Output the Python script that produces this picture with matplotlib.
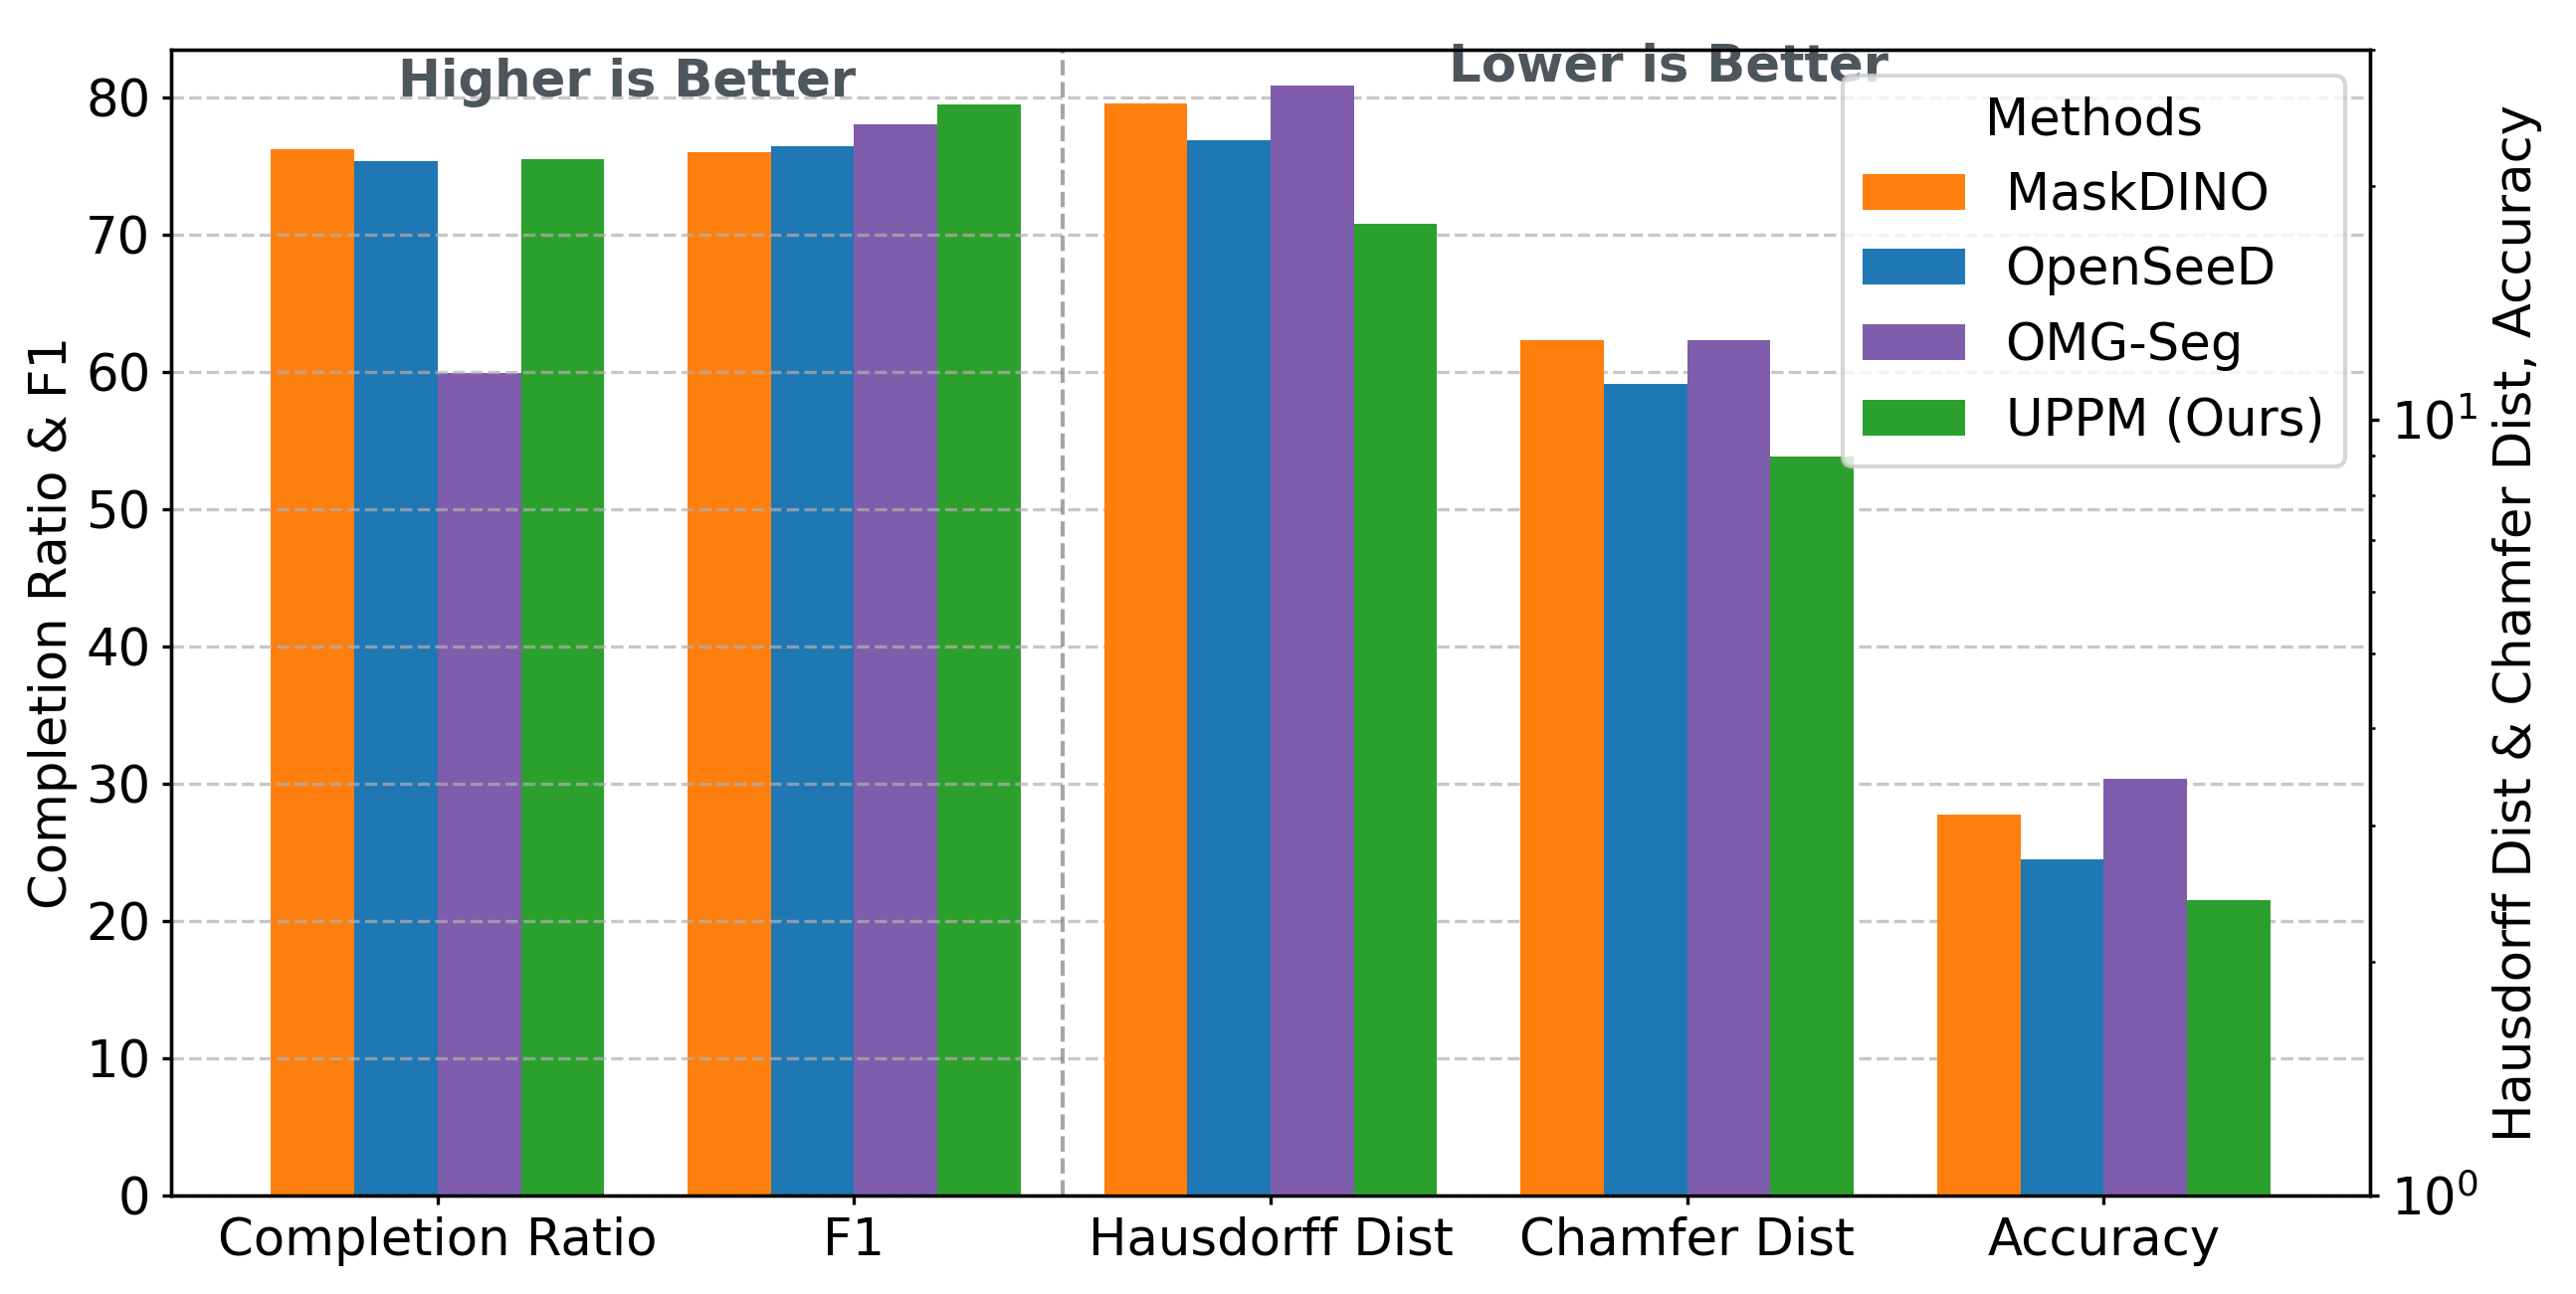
import matplotlib
matplotlib.use("Agg")
import matplotlib.pyplot as plt
import numpy as np

# data
metrics = ["Completion Ratio", "F1", "Hausdorff Dist", "Chamfer Dist", "Accuracy"]
methods = ["MaskDINO", "OpenSeeD", "OMG-Seg", "UPPM (Ours)"]
colors = ["#ff7f0e", "#1f77b4", "#7e5dac", "#2ca02c"]

# higher is better (left axis, linear)
completion_ratio = [76.25, 75.38, 59.9, 75.53]
f1 = [76.03, 76.47, 78.07, 79.5]
# lower is better (right axis, log)
hausdorff = [25.56, 22.9, 26.96, 17.88]
chamfer = [12.65, 11.14, 12.65, 8.98]
accuracy = [3.10, 2.715, 3.45, 2.40]

left_vals = np.array([completion_ratio, f1]).T      # method x metric
right_vals = np.array([hausdorff, chamfer, accuracy]).T

plt.rcParams['font.size'] = 12.3
for ax_name in ('xtick', 'ytick'):
    plt.rcParams[ax_name + '.major.size'] = 2.24
    plt.rcParams[ax_name + '.minor.size'] = 1.28
    plt.rcParams[ax_name + '.major.pad'] = 2.7
    plt.rcParams[ax_name + '.minor.pad'] = 2.7

fig = plt.figure(figsize=(2589 / 300, 1301 / 300), dpi=300)
ax1 = fig.add_axes([0.0664, 0.0761, 0.9201 - 0.0664, 0.9616 - 0.0761])
ax2 = ax1.twinx()

x = np.arange(len(metrics))
width = 0.2
offsets = (np.arange(len(methods)) - 1.5) * width

for i, m in enumerate(methods):
    ax1.bar(x[:2] + offsets[i], left_vals[i], width, color=colors[i], label=m)
    ax2.bar(x[2:] + offsets[i], right_vals[i], width, color=colors[i], label=m)

ax2.set_yscale('log')
ax2.set_ylim(1, 30)
ax1.set_ylim(0, max(f1) * 1.05)
ax1.set_yticks(np.arange(0, 81, 10))
ax1.set_xlim(-0.64, 4.64)
ax1.set_xticks(x)
ax1.set_xticklabels(metrics)

ax1.set_ylabel("Completion Ratio & F1", labelpad=2)
ax2.set_ylabel("Hausdorff Dist & Chamfer Dist, Accuracy", labelpad=3.5)

ax1.grid(True, axis='y', linestyle='--', alpha=0.7)
ax1.axvline(1.5, color='gray', linestyle='--', linewidth=1, alpha=0.7)

txt_color = '#4c565b'
ax1.text(0.455, 81.1, "Higher is Better", ha='center', va='center',
         fontweight='bold', color=txt_color)
ax1.text(2.955, 82.2, "Lower is Better", ha='center', va='center',
         fontweight='bold', color=txt_color)

handles, labels = ax1.get_legend_handles_labels()
ax2.legend(handles, labels, title="Methods", loc='upper right')

fig.savefig("out.png", dpi=300)
